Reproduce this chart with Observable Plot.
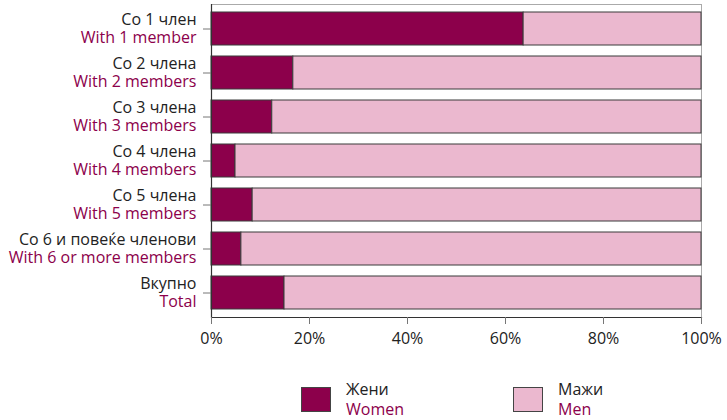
<!DOCTYPE html>
<html>
<head>
<meta charset="utf-8">
<script src="https://cdn.jsdelivr.net/npm/d3@7"></script>
<script src="https://cdn.jsdelivr.net/npm/@observablehq/plot@0.6"></script>
<style>
  html, body { margin: 0; padding: 0; background: #fff; }
  body { width: 727px; height: 420px; position: relative; overflow: hidden; font-family: "Open Sans", sans-serif; }
  #chart { position: absolute; left: 0; top: 0; }
  #legend { position: absolute; left: 0; top: 379px; width: 727px; height: 41px; }
  .item { position: absolute; top: 0; display: flex; align-items: flex-start; }
  .sw { width: 28px; height: 23px; border: 1px solid #444; margin-top: 8px; }
  .lab { margin-left: 15px; font-size: 16px; line-height: 20px; }
  .lab .mk { color: #222; }
  .lab .en { color: #8c004b; }
</style>
</head>
<body>
<div id="chart"></div>
<div id="legend"></div>
<script>
const categoriesMk = ["Со 1 член", "Со 2 члена", "Со 3 члена", "Со 4 члена", "Со 5 члена", "Со 6 и повеќе членови", "Вкупно"];
const categoriesEn = ["With 1 member", "With 2 members", "With 3 members", "With 4 members", "With 5 members", "With 6 or more members", "Total"];
const women = [63.7, 16.7, 12.4, 4.9, 8.4, 6.1, 14.9];
const men = [36.3, 83.3, 87.6, 95.1, 91.6, 93.9, 85.1];
const seriesMk = ["Жени", "Мажи"];
const seriesEn = ["Women", "Men"];
const seriesColors = ["#8c004b", "#ebb8cf"];
const xTicks = [0, 20, 40, 60, 80, 100];

const rows = categoriesMk.map((c, i) => ({cat: c, mk: c, en: categoriesEn[i]}));
const data = [];
categoriesMk.forEach((c, i) => {
  data.push({cat: c, sex: seriesEn[0], value: women[i]});
  data.push({cat: c, sex: seriesEn[1], value: men[i]});
});

const FONT = "'Open Sans', sans-serif";

const chart = Plot.plot({
  width: 727,
  height: 360,
  marginLeft: 211,
  marginRight: 26,
  marginTop: 4,
  marginBottom: 43,
  style: {fontFamily: FONT, fontSize: "16px", color: "#222", background: "#fff"},
  x: {domain: [0, 100], ticks: xTicks, tickFormat: d => d + "%"},
  y: {domain: categoriesMk, paddingInner: 0.26, paddingOuter: 0.134},
  color: {domain: seriesEn, range: seriesColors},
  marks: [
    Plot.frame({stroke: "#aaa"}),
    Plot.barX(data, Plot.stackX({x: "value", y: "cat", fill: "sex", order: seriesEn, stroke: "#3a3a3a", strokeWidth: 1})),
    Plot.ruleX([0], {stroke: "#333", strokeWidth: 1.2}),
    Plot.frame({anchor: "bottom", stroke: "#333", strokeWidth: 1.2}),
    Plot.axisX({ticks: xTicks, tickFormat: d => d + "%", tickSize: 7, tickPadding: 8, stroke: "#777", fill: "#222", fontSize: 16, label: null}),
    Plot.axisY({tickSize: 8, tickFormat: () => "", stroke: "#777", label: null}),
    Plot.text(rows, {y: "cat", text: "mk", frameAnchor: "left", dx: -15, dy: -9, textAnchor: "end", fill: "#222", fontSize: 16}),
    Plot.text(rows, {y: "cat", text: "en", frameAnchor: "left", dx: -15, dy: 9, textAnchor: "end", fill: "#8c004b", fontSize: 16})
  ]
});
document.getElementById("chart").appendChild(chart);

const legend = document.getElementById("legend");
const lefts = [301, 513];
seriesEn.forEach((s, i) => {
  const item = document.createElement("div");
  item.className = "item";
  item.style.left = lefts[i] + "px";
  item.innerHTML = `<div class="sw" style="background:${seriesColors[i]}"></div><div class="lab"><div class="mk">${seriesMk[i]}</div><div class="en">${s}</div></div>`;
  legend.appendChild(item);
});
</script>
</body>
</html>
